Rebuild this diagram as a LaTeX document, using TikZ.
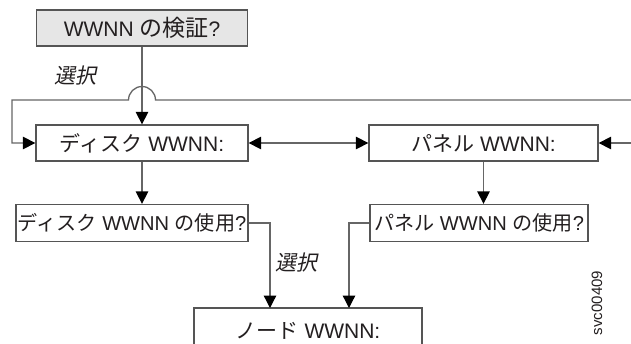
\documentclass[tikz,border=0pt]{standalone}
\usepackage{fontspec}
\setmainfont{Liberation Sans}
\newfontfamily\cjk{Noto Sans CJK JP}
\newfontfamily\cjkit[FakeSlant=0.2]{Noto Sans CJK JP}
\usetikzlibrary{arrows.meta}
\definecolor{linegray}{HTML}{666666}
\definecolor{boxgray}{HTML}{555555}
\definecolor{fillgray}{HTML}{E6E6E6}
\definecolor{txt}{HTML}{231F20}
\tikzset{
  tip/.tip={Triangle[length=12.5pt,width=12.5pt,color=black]},
  box/.style={draw=boxgray, line width=1.3pt, rectangle, inner sep=0pt, text=txt,
    font=\fontsize{21}{24}\selectfont},
  smallbox/.style={box, font=\fontsize{20.1}{23}\selectfont},
  conn/.style={draw=linegray, line width=1.3pt, -tip},
  lbl/.style={text=txt, font=\fontsize{21}{24}\selectfont\cjkit},
}
\begin{document}
\begin{tikzpicture}[x=1pt,y=-1pt]
\clip (0,0) rectangle (631,343);
\fill[white] (0,0) rectangle (631,343);
\node[box, fill=fillgray, minimum width=211pt, minimum height=36pt] (top) at (142,28) {WWNN {\fontsize{23}{24}\selectfont\cjk の検証}?};
\node[box, minimum width=212pt, minimum height=36pt] (disk) at (142,143) {{\cjk ディスク} WWNN:};
\node[box, minimum width=229pt, minimum height=36pt] (panel) at (483.5,143) {{\cjk パネル} WWNN:};
\node[smallbox, minimum width=232pt, minimum height=37pt] (diskuse) at (132,223) {{\cjk ディスク} WWNN {\cjk の使用}?};
\node[smallbox, minimum width=218pt, minimum height=37pt] (paneluse) at (479,223) {{\cjk パネル} WWNN {\cjk の使用}?};
\node[box, minimum width=228pt, minimum height=46pt] (nodebox) at (308,331) {{\cjk ノード} WWNN:};
\coordinate (loopR) at (631,100);
\coordinate (rightR) at (631,143);
\node[lbl] (sel1) at (75,76) {選択};
\node[lbl] (sel2) at (296,263) {選択};
\node[text=txt, font=\fontsize{15}{16}\selectfont, rotate=90] (code) at (597,303) {svc00409};
% top to disk
\draw[conn] (top.south) -- (disk.north);
% loop line from the right with a hop over the vertical line
\draw[conn] (loopR) -- (155.5,100) arc[start angle=0, end angle=-180, radius=13.5] -- (12,100) -- (12,143) -- (disk.west);
% double arrow between disk and panel
\draw[conn, tip-tip] (disk.east) -- (panel.west);
% from right into panel
\draw[conn] (rightR) -- (panel.east);
% downward
\draw[conn] (disk.south) -- (disk.south |- diskuse.north);
\draw[conn] (panel.south) -- (panel.south |- paneluse.north);
% to node
\draw[conn] (diskuse.east) -- (270,223) -- (270,308);
\draw[conn] (paneluse.west) -- (349,223) -- (349,308);
\end{tikzpicture}
\end{document}
